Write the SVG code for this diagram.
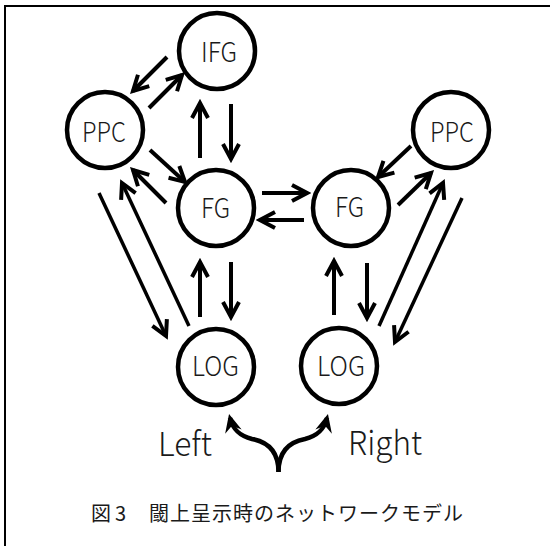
<svg xmlns="http://www.w3.org/2000/svg" width="550" height="546" viewBox="0 0 550 546">
  <style>
    .node circle { fill: #ffffff; stroke: #000000; stroke-width: 4.5; }
    .label { font-family: "Noto Sans CJK JP", "Liberation Sans", sans-serif; font-weight: 300; font-size: 27px; fill: #1a1a1a; }
    .side { font-family: "Noto Sans CJK JP", "Liberation Sans", sans-serif; font-weight: 300; font-size: 33px; fill: #1a1a1a; }
    .caption { font-family: "Noto Sans CJK JP", sans-serif; font-size: 20px; fill: #1a1a1a; }
    .edge { stroke: #000000; stroke-width: 4; fill: none; marker-end: url(#chevron); }
    .edge.long { stroke-width: 3.5; }
    .wave { stroke: #000000; stroke-width: 4.5; fill: none; marker-end: url(#solid); }
    .frame { stroke: #000000; stroke-width: 2; fill: none; }
  </style>
  <defs>
    <!-- open chevron head for the network links -->
    <marker id="chevron" markerUnits="userSpaceOnUse" viewBox="-18 -10 22 20" refX="0" refY="0" markerWidth="22" markerHeight="20" orient="auto">
      <path d="M-15,-8 L0,0 L-15,8" fill="none" stroke="#000000" stroke-width="4" stroke-linejoin="miter"/>
    </marker>
    <!-- filled, notched head for the Left/Right input arrows -->
    <marker id="solid" markerUnits="userSpaceOnUse" viewBox="-18 -10 24 20" refX="0" refY="0" markerWidth="24" markerHeight="20" orient="auto">
      <path d="M4,0 L-14,-8.5 L-8,0 L-14,8.5 Z" fill="#000000"/>
    </marker>
  </defs>

  <!-- page frame -->
  <path class="frame" d="M5,546 L5,6 L550,6"/>

  <g id="connectors">
    <line class="edge" x1="167" y1="57" x2="133" y2="91"/>
    <line class="edge" x1="149" y1="108" x2="182" y2="75"/>
    <line class="edge" x1="200" y1="158" x2="200" y2="103"/>
    <line class="edge" x1="231" y1="104" x2="231" y2="159"/>
    <line class="edge" x1="150" y1="150" x2="185" y2="182"/>
    <line class="edge" x1="166" y1="203" x2="133" y2="170"/>
    <line class="edge long" x1="99" y1="193" x2="166" y2="336"/>
    <line class="edge long" x1="189" y1="326" x2="122" y2="183"/>
    <line class="edge" x1="200" y1="317" x2="200" y2="262"/>
    <line class="edge" x1="231" y1="262" x2="231" y2="317"/>
    <line class="edge" x1="262" y1="193" x2="307" y2="193"/>
    <line class="edge" x1="304" y1="220" x2="260" y2="220"/>
    <line class="edge" x1="411" y1="146" x2="378" y2="177"/>
    <line class="edge" x1="398" y1="205" x2="431" y2="173"/>
    <line class="edge" x1="334" y1="315" x2="334" y2="261"/>
    <line class="edge" x1="367" y1="263" x2="367" y2="318"/>
    <line class="edge long" x1="379" y1="326" x2="443" y2="183"/>
    <line class="edge long" x1="462" y1="198" x2="395" y2="342"/>
    <!-- stimulus input branching to both LOG nodes -->
    <path class="wave" d="M278.5,472 C278.5,452 268,442 252,439 C240,436 233,430 230,418"/>
    <path class="wave" d="M278.5,472 C278.5,452 289,442 305,439 C317,436 324,430 327,418"/>
  </g>

  <g id="IFG" class="node">
    <circle cx="217" cy="51" r="38"/>
    <text class="label" x="201" y="62" textLength="36" lengthAdjust="spacingAndGlyphs">IFG</text>
  </g>
  <g id="PPC-left" class="node">
    <circle cx="105" cy="130" r="38"/>
    <text class="label" x="82" y="142" textLength="44" lengthAdjust="spacingAndGlyphs">PPC</text>
  </g>
  <g id="FG-left" class="node">
    <circle cx="216" cy="208" r="38"/>
    <text class="label" x="201" y="218" textLength="29" lengthAdjust="spacingAndGlyphs">FG</text>
  </g>
  <g id="FG-right" class="node">
    <circle cx="351" cy="208" r="38"/>
    <text class="label" x="335" y="217" textLength="29" lengthAdjust="spacingAndGlyphs">FG</text>
  </g>
  <g id="PPC-right" class="node">
    <circle cx="451" cy="130" r="38"/>
    <text class="label" x="430" y="142" textLength="44" lengthAdjust="spacingAndGlyphs">PPC</text>
  </g>
  <g id="LOG-left" class="node">
    <circle cx="216" cy="367" r="38"/>
    <text class="label" x="192" y="376" textLength="47" lengthAdjust="spacingAndGlyphs">LOG</text>
  </g>
  <g id="LOG-right" class="node">
    <circle cx="339" cy="366" r="38"/>
    <text class="label" x="317" y="376" textLength="48" lengthAdjust="spacingAndGlyphs">LOG</text>
  </g>

  <text class="side" x="158" y="456" textLength="54" lengthAdjust="spacingAndGlyphs">Left</text>
  <text class="side" x="348" y="455" textLength="74" lengthAdjust="spacingAndGlyphs">Right</text>

  <text class="caption" y="521"><tspan x="91">図</tspan><tspan x="115">3</tspan><tspan x="149" letter-spacing="1">閾上呈示時のネットワークモデル</tspan></text>
</svg>
